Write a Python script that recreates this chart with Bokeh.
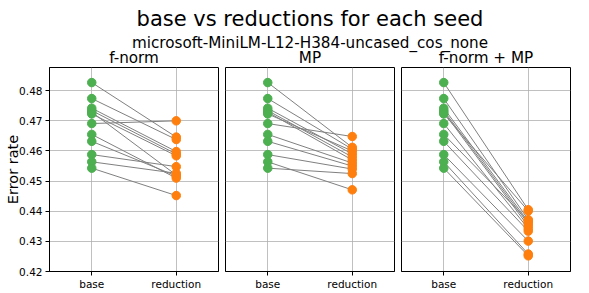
from bokeh.plotting import figure
from bokeh.layouts import column, row
from bokeh.models import Range1d, FactorRange, FixedTicker, NumeralTickFormatter, ColumnDataSource
from bokeh.core.properties import value
from bokeh.embed import file_html
from bokeh.resources import INLINE

# ---- data ----
categories = ["base", "reduction"]
panel_titles = ["f-norm", "MP", "f-norm + MP"]
suptitle = "base vs reductions for each seed"
subtitle = "microsoft-MiniLM-L12-H384-uncased_cos_none"
y_ticks = [0.42, 0.43, 0.44, 0.45, 0.46, 0.47, 0.48]

base = [0.4827, 0.4774, 0.4742, 0.4734, 0.4729, 0.4723, 0.4691, 0.4655, 0.4632, 0.4588, 0.4564, 0.4543]
fnorm = [0.4646, 0.4638, 0.4598, 0.4590, 0.4520, 0.4584, 0.4700, 0.4510, 0.4517, 0.4548, 0.4526, 0.4452]
mp = [0.4612, 0.4606, 0.4590, 0.4580, 0.4570, 0.4600, 0.4648, 0.4560, 0.4550, 0.4540, 0.4471, 0.4525]
fnorm_mp = [0.4405, 0.4372, 0.4365, 0.4358, 0.4350, 0.4401, 0.4342, 0.4368, 0.4334, 0.4301, 0.4258, 0.4252]
reductions = [fnorm, mp, fnorm_mp]

# ---- style ----
FONT = "DejaVu Sans"
GREEN = "#4caf50"
ORANGE = "#ff7f0e"
LEFT = 49
FW = 169
FH = 208
HEADER_H = 66
TOP = 1
BOTTOM = 17
lefts = [LEFT, 4, 4]
rights = [3, 3, 2]

panels = []
for i, (title, red) in enumerate(zip(panel_titles, reductions)):
    w = lefts[i] + FW + rights[i]
    p = figure(width=w, height=TOP + FH + BOTTOM, output_backend="svg", toolbar_location=None,
               x_range=FactorRange(*categories), y_range=Range1d(0.42, 0.4877),
               y_axis_location="left" if i == 0 else None,
               min_border_left=lefts[i], min_border_right=rights[i],
               min_border_top=TOP, min_border_bottom=BOTTOM)
    p.outline_line_color = "black"
    p.outline_line_width = 1
    p.background_fill_color = "white"
    p.border_fill_color = "white"
    p.ygrid.ticker = FixedTicker(ticks=y_ticks)
    for g in (p.xgrid[0], p.ygrid[0]):
        g.grid_line_color = "#b0b0b0"
        g.grid_line_width = 0.8
    axes = [p.xaxis[0]]
    if i == 0:
        p.yaxis.ticker = FixedTicker(ticks=y_ticks)
        p.yaxis.formatter = NumeralTickFormatter(format="0.00")
        p.yaxis.major_label_standoff = 3
        p.yaxis.axis_label = "Error rate"
        p.yaxis.axis_label_text_font = FONT
        p.yaxis.axis_label_text_font_size = "14.5px"
        p.yaxis.axis_label_text_font_style = "normal"
        p.yaxis.axis_label_text_color = "black"
        p.yaxis.axis_label_standoff = -5
        axes.append(p.yaxis[0])
    for ax in axes:
        ax.axis_line_color = "black"
        ax.major_tick_line_color = "black"
        ax.major_tick_in = 0
        ax.major_tick_out = 4
        ax.minor_tick_line_color = None
        ax.major_label_text_font = FONT
        ax.major_label_text_font_size = "10.5px"
        ax.major_label_text_color = "black"
    p.xaxis.major_label_standoff = 2

    src = ColumnDataSource(dict(x0=["base"] * len(base), x1=["reduction"] * len(red), y0=base, y1=red))
    p.segment(x0="x0", y0="y0", x1="x1", y1="y1", source=src, line_color="gray", line_width=1)
    p.scatter(x="x0", y="y0", source=src, size=8.5, fill_color=GREEN, line_color=GREEN)
    p.scatter(x="x1", y="y1", source=src, size=8.5, fill_color=ORANGE, line_color=ORANGE)
    panels.append(p)

# ---- header with titles ----
total_w = sum(lefts) + 3 * FW + sum(rights)
header = figure(width=total_w, height=HEADER_H, output_backend="svg", toolbar_location=None,
                x_range=Range1d(0, total_w), y_range=Range1d(0, HEADER_H),
                min_border=0, x_axis_location=None, y_axis_location=None)
header.outline_line_color = None
header.xgrid.visible = False
header.ygrid.visible = False
centers = []
off = 0
for i in range(3):
    centers.append(off + lefts[i] + FW / 2)
    off += lefts[i] + FW + rights[i]
header.text(x=[centers[1]], y=[HEADER_H - 18], text=[suptitle], text_font=value(FONT),
            text_font_size="21px", text_align="center", text_baseline="middle", text_color="black")
header.text(x=[centers[1]], y=[HEADER_H - 42], text=[subtitle], text_font=value(FONT),
            text_font_size="15.2px", text_align="center", text_baseline="middle", text_color="black")
header.text(x=centers, y=[HEADER_H - 57] * 3, text=panel_titles, text_font=value(FONT),
            text_font_size="15.2px", text_align="center", text_baseline="middle", text_color="black")

layout = column(header, row(*panels, spacing=0), spacing=0)
open("out.html", "w").write(file_html(layout, INLINE))
